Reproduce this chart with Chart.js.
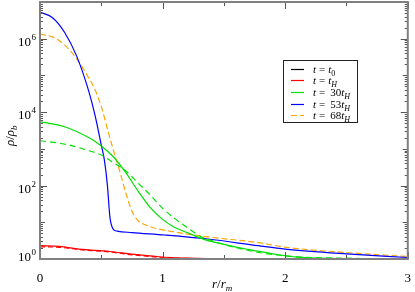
<!DOCTYPE html>
<html>
<head>
<meta charset="utf-8">
<script src="https://cdn.jsdelivr.net/npm/chart.js@4/dist/chart.umd.min.js"></script>
<style>
  html, body { margin: 0; padding: 0; background: #fff; }
  #wrap { width: 415px; height: 292px; }
</style>
</head>
<body>
<div id="wrap"><canvas id="chartContainer"></canvas></div>
<script>
// density profiles rho/rho_b against r/r_m
const rBlack = [0, 3];
const blackVals = [1, 1];

const rRed = [0, 0.16, 0.32, 0.57, 0.75, 0.97, 1.2, 1.5, 2, 3];
const redVals = [2.3, 2.2, 1.86, 1.6, 1.35, 1.15, 1.05, 1.0, 1.0, 1.0];
const redDashVals = [2.15, 2.08, 1.8, 1.55, 1.3, 1.12, 1.04, 1.0, 1.0, 1.0];

const rGreen = [0, 0.2, 0.4, 0.5, 0.6, 0.7, 0.8, 0.9, 1.0, 1.1, 1.2, 1.32, 1.5, 1.7, 1.9, 2.1, 2.5, 3];
const greenVals = [5500, 4000, 2000, 1200, 600, 224, 71, 25, 12, 7.2, 5.25, 3.6, 2.5, 1.82, 1.38, 1.12, 1.02, 1.0];

const rGreenDash = [0, 0.2, 0.4, 0.5, 0.6, 0.7, 0.8, 0.9, 1.0, 1.1, 1.2, 1.3, 1.45, 1.6, 1.8, 2.1, 2.5, 3];
const greenDashVals = [1660, 1350, 890, 680, 417, 250, 117, 55, 24, 12.6, 7.2, 4.3, 2.8, 2.04, 1.48, 1.15, 1.05, 1.0];

const rBlue = [0, 0.1, 0.2, 0.3, 0.4, 0.45, 0.5, 0.525, 0.55, 0.57, 0.58, 0.6, 0.63, 0.75, 1.02, 1.37, 1.78, 2.0, 2.5, 3];
const blueVals = [5.25e6, 3.8e6, 1.5e6, 3.3e5, 3.5e4, 7.9e3, 1.26e3, 500, 100, 14, 9.1, 6.3, 5.75, 5.25, 4.5, 3.5, 2.3, 1.86, 1.38, 1.1];

const rOrange = [0, 0.1, 0.2, 0.3, 0.4, 0.45, 0.5, 0.55, 0.6, 0.65, 0.7, 0.75, 0.8, 0.9, 1.05, 1.37, 1.78, 2.0, 2.5, 3];
const orangeVals = [1.32e6, 1.12e6, 6.8e5, 2.8e5, 8.3e4, 4.0e4, 1.41e4, 3.5e3, 890, 250, 63, 20, 11.2, 7.6, 5.8, 4.0, 2.8, 2.1, 1.5, 1.17];

const legendLabels = [
  { num: '', sub: '0', subItalic: false },
  { num: '', sub: 'H', subItalic: true },
  { num: '30', sub: 'H', subItalic: true },
  { num: '53', sub: 'H', subItalic: true },
  { num: '68', sub: 'H', subItalic: true }
];
const yLabelPowers = [0, 2, 4, 6];
const xTickLabels = [0, 1, 2, 3];

const SERIF = '"Liberation Serif", "DejaVu Serif", serif';

function pts(rs, vs) {
  return rs.map((r, i) => ({ x: r, y: vs[i] }));
}

function line(label, rs, vs, color, dash, inLegend) {
  return {
    label: label,
    data: pts(rs, vs),
    borderColor: color,
    backgroundColor: color,
    borderWidth: 1.2,
    borderDash: dash || [],
    pointRadius: 0,
    fill: false,
    cubicInterpolationMode: 'monotone',
    clip: 3,
    inLegend: inLegend
  };
}

// frame, inward ticks, y labels, axis titles and legend
const decorPlugin = {
  id: 'decor',
  afterDatasetsDraw(chart) {
    const ctx = chart.ctx;
    const a = chart.chartArea;
    const xs = chart.scales.x;
    const ys = chart.scales.y;
    ctx.save();

    // ticks on all four sides, pointing in
    ctx.strokeStyle = '#555';
    ctx.lineWidth = 1;
    ctx.beginPath();
    for (let v = 0; v <= 3.001; v += 0.5) {
      const px = Math.round(xs.getPixelForValue(v)) + 0.5;
      const len = (Math.abs(v - Math.round(v)) < 1e-6) ? 7 : 4;
      ctx.moveTo(px, a.bottom); ctx.lineTo(px, a.bottom - len);
      ctx.moveTo(px, a.top); ctx.lineTo(px, a.top + len);
    }
    for (let p = 0; p <= 6; p++) {
      for (let m = 1; m <= 9; m++) {
        const v = m * Math.pow(10, p);
        if (v > 1e7) continue;
        const py = Math.round(ys.getPixelForValue(v)) + 0.5;
        let len = 3;
        if (m === 1) len = (p % 2 === 0) ? 7 : 5;
        ctx.moveTo(a.left, py); ctx.lineTo(a.left + len, py);
        ctx.moveTo(a.right, py); ctx.lineTo(a.right - len, py);
      }
    }
    ctx.stroke();

    // frame
    ctx.strokeStyle = '#808080';
    ctx.lineWidth = 2;
    ctx.strokeRect(a.left, a.top, a.right - a.left, a.bottom - a.top);

    // y tick labels 10^n
    ctx.fillStyle = '#000';
    ctx.textBaseline = 'alphabetic';
    yLabelPowers.forEach(p => {
      const py = ys.getPixelForValue(Math.pow(10, p));
      const base = p === 0 ? py + 2 : py + 7;
      ctx.font = '13px ' + SERIF;
      ctx.textAlign = 'right';
      ctx.fillText('10', 31, base);
      ctx.font = '9px ' + SERIF;
      ctx.textAlign = 'left';
      ctx.fillText(String(p), 31.5, base - 6);
    });

    // x title r/r_m
    ctx.textAlign = 'left';
    let x = 212, y = 288;
    ctx.font = 'italic 13px ' + SERIF;
    ctx.fillText('r', x, y); x += ctx.measureText('r').width;
    ctx.font = '13px ' + SERIF;
    ctx.fillText('/', x, y); x += ctx.measureText('/').width;
    ctx.font = 'italic 13px ' + SERIF;
    ctx.fillText('r', x, y); x += ctx.measureText('r').width;
    ctx.font = 'italic 9px ' + SERIF;
    ctx.fillText('m', x, y + 3);

    // y title rho/rho_b
    ctx.save();
    ctx.translate(14, 146);
    ctx.rotate(-Math.PI / 2);
    x = 0; y = 0;
    ctx.font = 'italic 13px ' + SERIF;
    ctx.fillText('ρ', x, y); x += ctx.measureText('ρ').width;
    ctx.font = '13px ' + SERIF;
    ctx.fillText('/', x, y); x += ctx.measureText('/').width;
    ctx.font = 'italic 13px ' + SERIF;
    ctx.fillText('ρ', x, y); x += ctx.measureText('ρ').width;
    ctx.font = 'italic 9px ' + SERIF;
    ctx.fillText('b', x, y + 3);
    ctx.restore();

    // legend box
    const bx = 283, by = 60, bw = 74, bh = 62;
    ctx.fillStyle = '#fff';
    ctx.fillRect(bx, by, bw, bh);
    ctx.strokeStyle = '#222';
    ctx.lineWidth = 1;
    ctx.strokeRect(bx + 0.5, by + 0.5, bw, bh);
    const legendSets = chart.data.datasets.filter(d => d.inLegend);
    legendSets.forEach((d, i) => {
      const ry = 68.5 + i * 11.7;
      ctx.strokeStyle = d.borderColor;
      ctx.lineWidth = 1.2;
      ctx.setLineDash(d.borderDash);
      ctx.beginPath();
      ctx.moveTo(291, Math.round(ry) + 0.5);
      ctx.lineTo(304, Math.round(ry) + 0.5);
      ctx.stroke();
      ctx.setLineDash([]);
      const lab = legendLabels[i];
      const ty = ry + 4;
      let tx = 313;
      ctx.fillStyle = '#000';
      ctx.font = 'italic 11px ' + SERIF;
      ctx.fillText('t', tx, ty); tx += ctx.measureText('t').width + 3;
      ctx.font = '11px ' + SERIF;
      ctx.fillText('=', tx, ty); tx += ctx.measureText('=').width + 3;
      if (lab.num) {
        tx += 2;
        ctx.fillText(lab.num, tx, ty); tx += ctx.measureText(lab.num).width;
      }
      ctx.font = 'italic 11px ' + SERIF;
      ctx.fillText('t', tx, ty); tx += ctx.measureText('t').width;
      ctx.font = (lab.subItalic ? 'italic ' : '') + '8px ' + SERIF;
      ctx.fillText(lab.sub, tx, ty + 3);
    });

    ctx.restore();
  }
};

const chart = new Chart(document.getElementById('chartContainer'), {
  type: 'line',
  data: {
    datasets: [
      line('t = t0', rBlack, blackVals, '#000000', null, true),
      line('t = tH', rRed, redVals, '#ff0000', null, true),
      line('t = tH (dashed)', rRed, redDashVals, '#ff0000', [5, 3], false),
      line('t = 30tH', rGreen, greenVals, '#00e000', null, true),
      line('t = 30tH (dashed)', rGreenDash, greenDashVals, '#00e000', [6, 4], false),
      line('t = 53tH', rBlue, blueVals, '#0000ff', null, true),
      line('t = 68tH', rOrange, orangeVals, '#ffa500', [6, 3], true)
    ]
  },
  options: {
    responsive: true,
    maintainAspectRatio: false,
    animation: false,
    layout: { padding: { left: 0, right: 4, top: 2, bottom: 0 } },
    plugins: {
      legend: { display: false },
      tooltip: { enabled: false }
    },
    scales: {
      x: {
        type: 'linear',
        min: 0,
        max: 3,
        grid: { display: false },
        border: { display: false },
        afterFit(scale) { scale.height = 33; },
        afterBuildTicks(scale) { scale.ticks = xTickLabels.map(v => ({ value: v })); },
        ticks: {
          color: '#000',
          font: { family: SERIF, size: 13 },
          padding: 4,
          maxRotation: 0,
          autoSkip: false
        }
      },
      y: {
        type: 'logarithmic',
        min: 1,
        max: 1e7,
        grid: { display: false },
        border: { display: false },
        afterFit(scale) { scale.width = 40; },
        ticks: { display: false }
      }
    }
  },
  plugins: [decorPlugin]
});
</script>
</body>
</html>
